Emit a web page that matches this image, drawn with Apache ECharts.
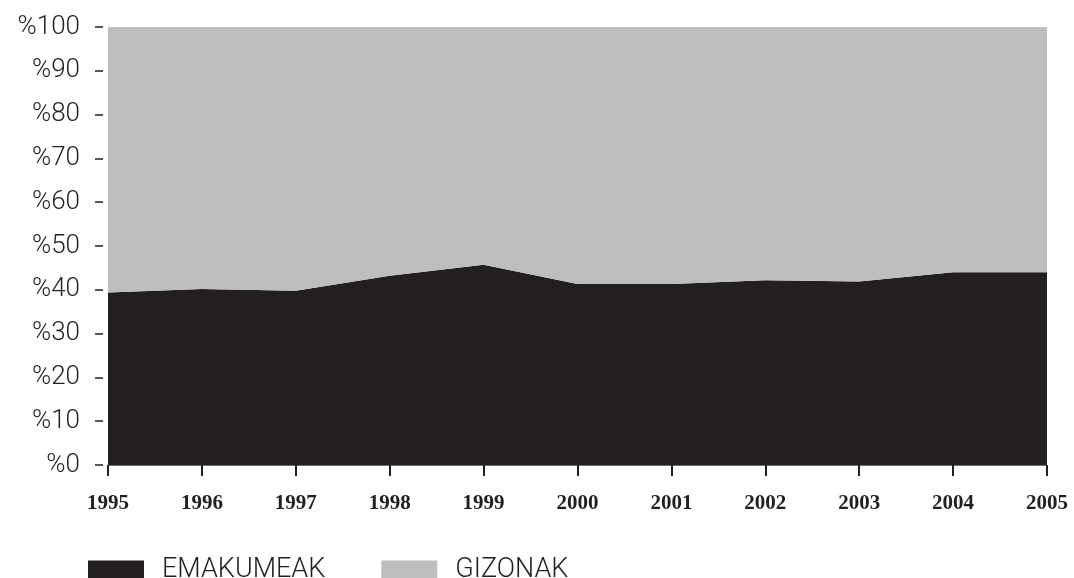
<!DOCTYPE html>
<html>
<head>
<meta charset="utf-8">
<script src="https://cdn.jsdelivr.net/npm/echarts@6/dist/echarts.min.js"></script>
<style>
html,body{margin:0;padding:0;background:#fff;}
#chart{width:1074px;height:578px;}
</style>
</head>
<body>
<div id="chart"></div>
<script>
const years = ['1995','1996','1997','1998','1999','2000','2001','2002','2003','2004','2005'];
const emakumeak = [39.4, 40.2, 39.8, 43.2, 45.7, 41.3, 41.3, 42.2, 41.9, 44.0, 44.0];
const gizonak = [60.6, 59.8, 60.2, 56.8, 54.3, 58.7, 58.7, 57.8, 58.1, 56.0, 56.0];
const yTicks = [0, 10, 20, 30, 40, 50, 60, 70, 80, 90, 100];

const chart = echarts.init(document.getElementById('chart'), null, {renderer: 'canvas'});
chart.setOption({
  animation: false,
  backgroundColor: '#ffffff',
  grid: {left: 108, right: 27, top: 27, bottom: 113, containLabel: false},
  legend: {
    left: 88, top: 557, padding: 0,
    itemWidth: 56, itemHeight: 20, itemGap: 56,
    icon: 'rect',
    textStyle: {fontFamily: 'Roboto, "Liberation Sans", sans-serif', fontWeight: 300, fontSize: 27, lineHeight: 20, color: '#231f20', padding: [0, 0, 0, 13]},
    data: ['EMAKUMEAK', 'GIZONAK']
  },
  xAxis: {
    type: 'category',
    data: years,
    boundaryGap: false,
    axisLine: {show: true, lineStyle: {color: '#6d6e71', width: 1}},
    axisTick: {show: true, length: 11, inside: false, alignWithLabel: true, lineStyle: {color: '#231f20', width: 2}},
    axisLabel: {margin: 28, fontFamily: '"Liberation Serif", "Times New Roman", serif', fontWeight: 'bold', fontSize: 21, color: '#231f20'},
    splitLine: {show: false}
  },
  yAxis: {
    type: 'value',
    min: 0, max: 100, interval: 10,
    offset: 5,
    axisLine: {show: false},
    axisTick: {show: true, length: 8, lineStyle: {color: '#231f20', width: 1.5}},
    axisLabel: {
      margin: 23,
      fontFamily: 'Roboto, "Liberation Sans", sans-serif', fontWeight: 300, fontSize: 26, color: '#231f20',
      formatter: function (v) { return yTicks.indexOf(v) >= 0 ? '%' + v : ''; }
    },
    splitLine: {show: false}
  },
  series: [
    {
      name: 'EMAKUMEAK', type: 'line', stack: 'total', data: emakumeak,
      symbol: 'none', showSymbol: false,
      lineStyle: {width: 0},
      areaStyle: {color: '#231f20', opacity: 1},
      itemStyle: {color: '#231f20'}
    },
    {
      name: 'GIZONAK', type: 'line', stack: 'total', data: gizonak,
      symbol: 'none', showSymbol: false,
      lineStyle: {width: 0},
      areaStyle: {color: '#bcbec0', opacity: 1},
      itemStyle: {color: '#bcbec0'}
    }
  ]
});
</script>
</body>
</html>
